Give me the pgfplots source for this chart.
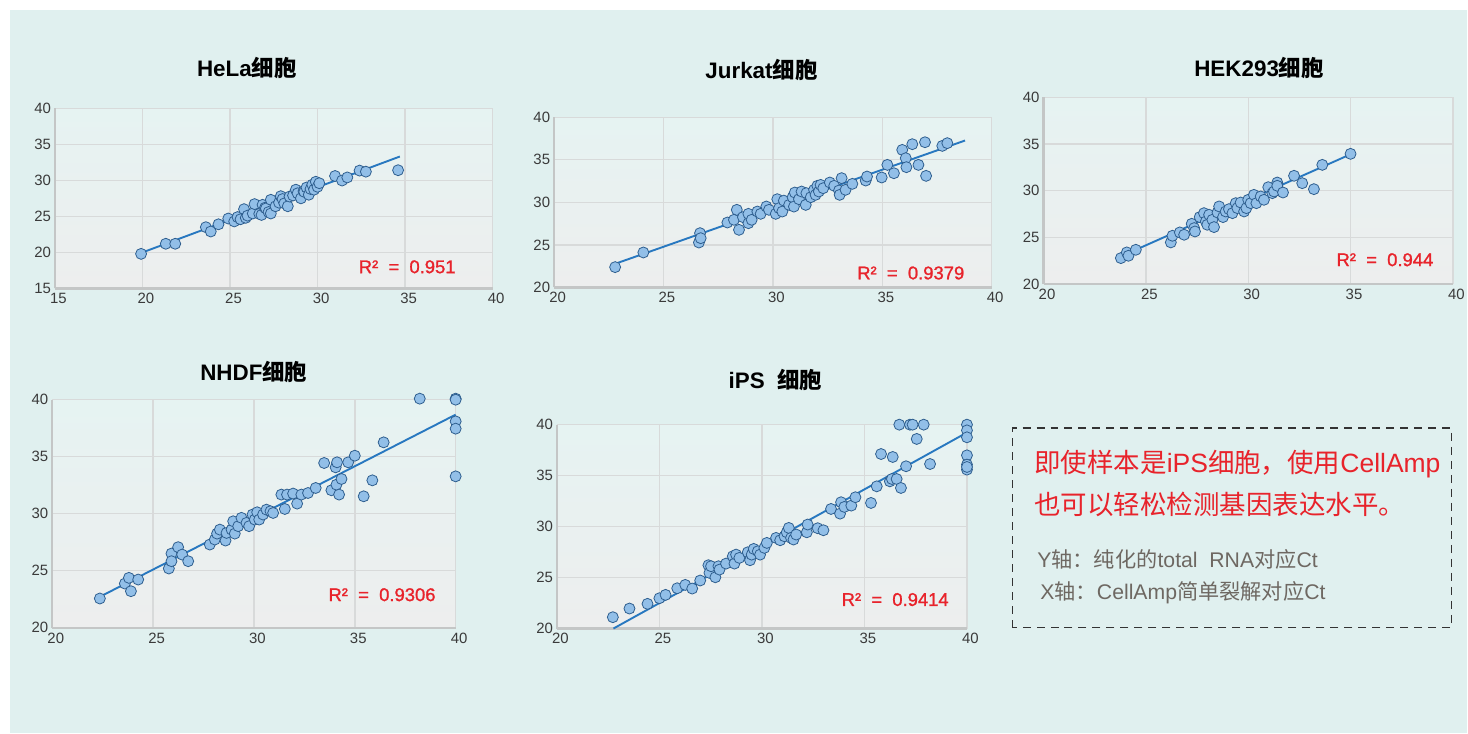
\documentclass[border=0pt]{standalone}
\usepackage{pgfplots}
\pgfplotsset{compat=1.18}
\usepackage{fontspec}
\setmainfont{Liberation Sans}
\newfontfamily\cjk{Noto Sans CJK SC}
\newfontfamily\medfont[FakeBold=1.2]{Liberation Sans}
\definecolor{pagebg}{HTML}{E0F0EF}
\definecolor{axtop}{HTML}{E6F3F2}
\definecolor{axbot}{HTML}{EDEEEE}
\definecolor{gridc}{HTML}{D8DADA}
\definecolor{axc}{HTML}{C4C6C6}
\definecolor{markfill}{HTML}{92BFE8}
\definecolor{markdraw}{HTML}{2E5E8E}
\definecolor{linec}{HTML}{2878C0}
\definecolor{rc}{HTML}{E8232B}
\definecolor{tickc}{HTML}{3A3A3A}
\definecolor{grayt}{HTML}{6E6862}
\pgfplotsset{
  myax/.style={
    scale only axis, anchor=south west, clip=false,
    xmin=20,xmax=40,ymin=20,ymax=40,
    xtick={20,25,30,35,40}, ytick={20,25,30,35,40},
    grid=major, major grid style={draw=gridc, line width=1.4bp},
    axis x line*=bottom, axis y line*=left,
    axis line style={draw=axc, line width=2.2bp},
    major tick length=0pt,
    tick label style={font=\fontsize{15}{17}\selectfont, text=tickc},
    xticklabel style={xshift=3.5bp, yshift=-1.5bp},
    yticklabel style={xshift=-0.5bp},
    /pgf/number format/assume math mode=true,
    axis background/.style={top color=axtop, bottom color=axbot},
  },
  pts/.style={only marks, mark=*, mark size=5.5bp,
    mark options={fill=markfill, draw=markdraw, line width=0.8bp}},
  fit/.style={no marks, draw=linec, line width=1.9bp},
}
\tikzset{rsq/.style={text=rc, font=\fontsize{18.5}{20}\medfont},
  ttl/.style={font=\fontsize{22.5}{26}\selectfont\bfseries}}
\begin{document}
\begin{tikzpicture}
\fill[white] (0bp,0bp) rectangle (1468bp,734bp);
\fill[pagebg] (10bp,0bp) rectangle (1468bp,724bp);

% titles
\node[ttl] at (247bp,665.5bp) {HeLa{\cjk 细胞}};
\node[ttl] at (762bp,664bp) {Jurkat{\cjk 细胞}};
\node[ttl] at (1260bp,666bp) {HEK293{\cjk 细胞}};
\node[ttl] at (254bp,362bp) {NHDF{\cjk 细胞}};
\node[ttl] at (776bp,353.5bp) {iPS\ \ {\cjk 细胞}};

% HeLa
\begin{axis}[myax, at={(55bp,445.3bp)}, width=438bp, height=180.4bp,
  xmin=15, ymin=15, xtick={15,20,25,30,35,40}, ytick={15,20,25,30,35,40}]
\addplot[pts] table {
x y
19.92 19.8
21.33 21.2
21.87 21.2
23.62 23.5
23.9 22.9
24.34 23.9
24.9 24.7
25.24 24.3
25.43 24.9
25.6 24.6
25.8 26.0
25.9 24.8
26.0 25.1
26.3 25.4
26.4 26.7
26.67 25.35
26.8 25.2
26.86 26.6
27.0 26.2
27.05 26.1
27.2 25.6
27.33 27.3
27.33 25.4
27.6 26.4
27.8 26.9
27.9 27.8
28.0 27.4
28.1 26.8
28.3 26.4
28.4 27.75
28.6 27.9
28.76 28.7
28.86 28.2
29.05 27.5
29.2 28.5
29.24 28.4
29.37 29.0
29.5 28.0
29.6 28.8
29.7 29.4
29.8 28.7
29.9 29.8
30.0 29.1
30.1 29.6
31.0 30.6
31.4 29.97
31.7 30.4
32.4 31.35
32.76 31.2
34.6 31.4
};
\addplot[fit] coordinates {(20,20.0) (34.7,33.3)};
\node[rsq] at (axis cs:35.12,18.0) {R²\ \ =\ \ 0.951};
\end{axis}

% Jurkat
\begin{axis}[myax, at={(554.5bp,446.3bp)}, width=438bp, height=170.4bp]
\addplot[pts] table {
x y
22.79 22.39
24.08 24.11
26.62 25.28
26.67 26.38
26.7 25.79
27.92 27.63
28.22 27.95
28.35 29.12
28.45 26.77
28.63 28.26
28.88 28.65
28.88 27.55
29.03 27.95
29.29 28.92
29.44 28.65
29.7 29.51
29.82 29.12
30.13 28.65
30.2 30.37
30.28 29.32
30.43 28.92
30.5 30.2
30.74 29.7
30.9 30.6
30.96 29.5
31.0 31.15
31.19 30.37
31.31 31.27
31.5 29.7
31.53 31.08
31.73 30.6
31.88 31.47
31.95 30.88
32.03 31.94
32.1 31.27
32.18 32.05
32.3 31.66
32.6 32.33
32.8 31.94
33.02 31.39
33.05 30.88
33.14 32.84
33.32 31.47
33.63 32.17
34.24 32.56
34.3 33.03
34.97 32.92
35.23 34.4
35.53 33.42
35.91 36.16
36.07 35.19
36.1 34.13
36.37 36.83
36.65 34.4
36.95 37.06
37.0 33.11
37.74 36.63
37.97 36.95
};
\addplot[fit] coordinates {(22.79,22.78) (38.78,37.26)};
\node[rsq] at (axis cs:36.3,21.7) {R²\ \ =\ \ 0.9379};
\end{axis}

% HEK293
\begin{axis}[myax, at={(1044.3bp,449.7bp)}, width=409.7bp, height=187bp]
\addplot[pts] table {
x y
23.78 22.78
24.07 23.39
24.15 23.03
24.51 23.67
26.22 24.46
26.3 25.17
26.66 25.53
26.87 25.28
27.24 26.45
27.36 25.99
27.4 25.63
27.63 27.17
27.84 27.59
27.93 26.7
28.0 26.35
28.09 27.42
28.25 26.88
28.33 26.1
28.5 27.66
28.58 28.31
28.77 27.17
28.9 27.77
29.06 28.02
29.23 27.59
29.39 28.66
29.47 28.13
29.63 28.73
29.8 27.77
29.91 28.13
30.0 29.02
30.12 28.66
30.28 29.55
30.4 28.66
30.61 29.38
30.77 29.02
30.98 30.37
31.18 29.73
31.26 29.91
31.42 30.87
31.42 30.52
31.7 29.8
32.24 31.59
32.64 30.8
33.21 30.16
33.62 32.76
35.0 33.94
};
\addplot[fit] coordinates {(23.78,22.96) (35.05,33.94)};
\node[rsq] at (axis cs:36.68,22.6) {R²\ \ =\ \ 0.944};
\end{axis}

% NHDF
\begin{axis}[myax, at={(52.3bp,105.7bp)}, width=403.7bp, height=228.3bp]
\addplot[pts] table {
x y
22.36 22.57
23.6 23.88
23.8 24.38
23.9 23.21
24.26 24.23
25.78 25.2
25.91 26.51
25.91 25.84
26.24 27.07
26.44 26.42
26.74 25.84
27.81 27.3
28.06 27.74
28.17 28.26
28.31 28.61
28.59 27.65
28.64 28.32
28.89 28.61
28.97 29.34
29.05 28.26
29.22 28.91
29.38 29.64
29.63 29.2
29.76 28.91
29.93 29.93
30.04 29.49
30.16 30.13
30.26 29.49
30.45 29.93
30.62 30.36
30.82 30.22
30.95 30.07
31.36 31.68
31.53 30.42
31.64 31.68
31.94 31.77
32.14 30.89
32.35 31.68
32.68 31.82
33.06 32.26
33.48 34.45
33.84 32.06
34.05 34.07
34.09 32.55
34.12 34.51
34.22 31.68
34.34 33.05
34.67 34.51
35.0 35.09
35.44 31.53
35.87 32.93
36.43 36.26
38.22 40.09
40.0 40.09
40.0 40.0
40.0 38.1
40.0 37.46
40.0 33.28
};
\addplot[fit] coordinates {(22.36,22.72) (40.0,38.69)};
\node[rsq] at (axis cs:36.35,22.9) {R²\ \ =\ \ 0.9306};
\end{axis}

% iPS
\begin{axis}[myax, at={(557.3bp,105bp)}, width=410.4bp, height=204bp]
\addplot[pts] table {
x y
22.73 21.11
23.54 21.96
24.42 22.42
25.0 22.97
25.3 23.3
25.87 23.95
26.26 24.28
26.6 23.92
26.99 24.71
27.39 26.21
27.44 25.46
27.52 26.11
27.73 25.03
27.88 26.11
27.93 25.78
28.25 26.37
28.58 27.09
28.66 26.37
28.74 27.25
28.9 26.93
29.31 27.48
29.42 26.7
29.5 27.25
29.6 27.81
29.8 27.58
29.91 27.25
30.12 27.91
30.24 28.4
30.69 28.89
30.89 28.66
31.1 29.05
31.21 29.44
31.31 29.87
31.42 28.89
31.54 28.73
31.67 29.22
32.19 29.44
32.23 30.2
32.72 29.84
33.0 29.64
33.37 31.73
33.81 31.27
33.86 32.39
34.02 31.93
34.36 32.06
34.56 32.88
35.32 32.32
35.6 33.95
35.81 37.12
36.24 34.44
36.34 34.67
36.38 36.83
36.57 34.67
36.7 40.0
36.78 33.79
37.03 35.92
37.22 40.0
37.35 40.0
37.55 38.6
37.89 40.0
38.2 36.14
40.0 40.0
40.0 39.44
40.0 38.76
40.0 36.99
40.0 36.08
40.0 35.59
40.0 35.85
};
\addplot[fit] coordinates {(22.76,20.0) (40.0,39.23)};
\node[rsq] at (axis cs:36.5,22.84) {R²\ \ =\ \ 0.9414};
\end{axis}

% note box
\draw[draw=black!80, line width=1.2bp, dash pattern=on 8bp off 6bp] (1013.3bp,105.7bp) rectangle (1452.3bp,305.7bp);
\node[anchor=west, text=rc, font=\fontsize{26.6}{30}\selectfont, inner sep=0pt] at (1035bp,270bp) {{\cjk 即使样本是}iPS{\cjk 细胞，使用}CellAmp};
\node[anchor=west, text=rc, font=\fontsize{26.6}{30}\selectfont, inner sep=0pt] at (1035bp,229bp) {{\cjk 也可以轻松检测基因表达水平。}};
\node[anchor=west, text=grayt, font=\fontsize{21.3}{24}\selectfont, inner sep=0pt] at (1038bp,174bp) {Y{\cjk 轴：纯化的}total\ \ RNA{\cjk 对应}Ct};
\node[anchor=west, text=grayt, font=\fontsize{21.3}{24}\selectfont, inner sep=0pt] at (1041bp,141bp) {X{\cjk 轴：}CellAmp{\cjk 简单裂解对应}Ct};
\end{tikzpicture}
\end{document}
